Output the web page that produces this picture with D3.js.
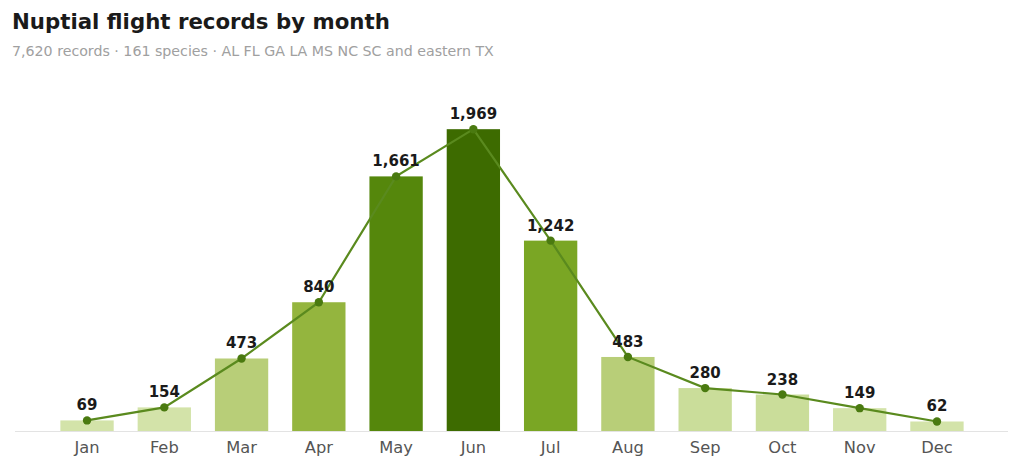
<!DOCTYPE html>
<html>
<head>
<meta charset="utf-8">
<script src="https://cdn.jsdelivr.net/npm/d3@7"></script>
<style>
  body { margin: 0; background: #fff; font-family: "DejaVu Sans", sans-serif; }
  svg { display: block; }
</style>
</head>
<body>
<svg id="chart" width="1024" height="470"></svg>
<script>
const months = ["Jan", "Feb", "Mar", "Apr", "May", "Jun", "Jul", "Aug", "Sep", "Oct", "Nov", "Dec"];
const records = [69, 154, 473, 840, 1661, 1969, 1242, 483, 280, 238, 149, 62];

const titleText = "Nuptial flight records by month";
const subtitleText = "7,620 records · 161 species · AL FL GA LA MS NC SC and eastern TX";

const svg = d3.select("#chart");
const baseY = 431;
const topY = 99;

const x = d3.scaleBand()
    .domain(months)
    .range([48.4, 975.6])
    .paddingInner(0.31)
    .paddingOuter(0.155);

const y = d3.scaleLinear()
    .domain([0, d3.max(records) * 1.1])
    .range([baseY, topY]);

// bar shade steps by count
const shade = d3.scaleThreshold()
    .domain([200, 400, 600, 1000, 1500, 1800])
    .range(["#d3e3a9", "#cadd9a", "#b8ce78", "#94b53e", "#7aa624", "#55870c", "#3d6b00"]);

const data = months.map((m, i) => ({ month: m, value: records[i] }));

svg.append("text")
    .attr("x", 12)
    .attr("y", 29)
    .attr("font-size", 21.3)
    .attr("font-weight", "bold")
    .attr("fill", "#1a1a1a")
    .text(titleText);

svg.append("text")
    .attr("x", 12)
    .attr("y", 56)
    .attr("font-size", 14.2)
    .attr("fill", "#a0a0a0")
    .text(subtitleText);

svg.append("g")
    .selectAll("rect")
    .data(data)
    .enter().append("rect")
    .attr("x", d => x(d.month))
    .attr("y", d => y(d.value))
    .attr("width", x.bandwidth())
    .attr("height", d => baseY - y(d.value))
    .attr("fill", d => shade(d.value));

svg.append("line")
    .attr("x1", 15)
    .attr("x2", 1008)
    .attr("y1", baseY + 0.5)
    .attr("y2", baseY + 0.5)
    .attr("stroke", "#e3e3e3")
    .attr("stroke-width", 1);

const xAxis = svg.append("g")
    .attr("transform", `translate(0,${baseY})`)
    .call(d3.axisBottom(x).tickSize(0).tickPadding(10));
xAxis.select(".domain").remove();
xAxis.selectAll("text")
    .attr("font-family", "DejaVu Sans, sans-serif")
    .attr("font-size", 16.3)
    .attr("fill", "#555");

const line = d3.line()
    .x(d => x(d.month) + x.bandwidth() / 2)
    .y(d => y(d.value));

svg.append("path")
    .datum(data)
    .attr("d", line)
    .attr("fill", "none")
    .attr("stroke", "#5a8a1e")
    .attr("stroke-width", 2.2);

svg.append("g")
    .selectAll("circle")
    .data(data)
    .enter().append("circle")
    .attr("cx", d => x(d.month) + x.bandwidth() / 2)
    .attr("cy", d => y(d.value))
    .attr("r", 4.2)
    .attr("fill", "#4a7a10");

svg.append("g")
    .selectAll("text")
    .data(data)
    .enter().append("text")
    .attr("x", d => x(d.month) + x.bandwidth() / 2)
    .attr("y", d => y(d.value) - 10)
    .attr("text-anchor", "middle")
    .attr("font-size", 15)
    .attr("font-weight", "bold")
    .attr("fill", "#1a1a1a")
    .text(d => d3.format(",")(d.value));
</script>
</body>
</html>
